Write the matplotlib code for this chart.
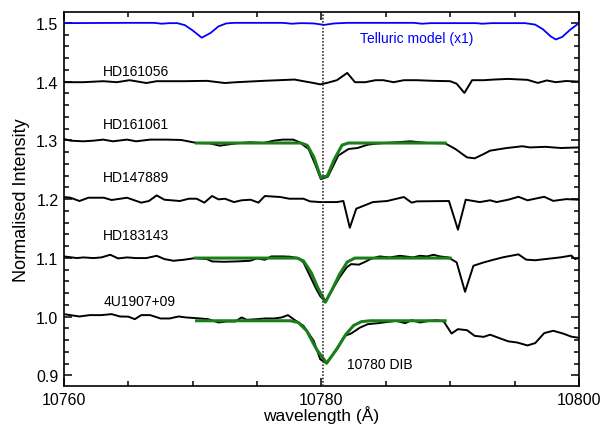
import matplotlib
matplotlib.use('Agg')
import matplotlib.pyplot as plt
from matplotlib.ticker import MultipleLocator, FormatStrFormatter

plt.rcParams['font.family'] = ['Liberation Sans', 'DejaVu Sans']

# telluric model (blue)
tell_wl = [10760.0, 10765.0, 10767.0, 10767.6, 10768.2, 10768.8, 10769.4, 10770.0, 10770.7, 10771.4,
           10772.0, 10772.6, 10773.2, 10777.0, 10777.7, 10778.4, 10779.4, 10780.2, 10781.0, 10782.0,
           10787.2, 10787.8, 10788.5, 10792.0, 10792.5, 10793.2, 10795.8, 10796.6, 10797.2, 10797.8,
           10798.2, 10798.7, 10799.3, 10800.0]
tell_fl = [1.4995, 1.5, 1.5, 1.4985, 1.4995, 1.4995, 1.496, 1.487, 1.4747, 1.483,
           1.494, 1.499, 1.5, 1.5, 1.4985, 1.4995, 1.499, 1.4965, 1.499, 1.5,
           1.5, 1.4985, 1.4995, 1.4995, 1.4985, 1.4995, 1.4995, 1.497, 1.489, 1.477,
           1.4717, 1.476, 1.488, 1.4995]

# HD161056
s1_wl = [10760.0, 10761.5, 10763.05, 10764.1, 10765.1, 10766.4, 10767.2, 10769.3, 10771.1, 10772.5,
         10773.4, 10775.5, 10777.9, 10778.6, 10779.4, 10779.9, 10780.4, 10781.2, 10782.0, 10782.6,
         10783.4, 10784.2, 10784.8, 10785.6, 10786.4, 10787.4, 10788.7, 10790.0, 10790.5, 10791.1,
         10791.7, 10792.6, 10793.4, 10794.5, 10796.0, 10796.8, 10797.5, 10798.2, 10799.0, 10800.0]
s1_fl = [1.399, 1.399, 1.4007, 1.399, 1.4024, 1.3976, 1.4007, 1.4007, 1.4013, 1.3976,
         1.399, 1.4013, 1.4035, 1.4007, 1.3976, 1.3953, 1.3976, 1.4024, 1.4148, 1.399,
         1.399, 1.4024, 1.4024, 1.399, 1.4024, 1.4024, 1.4013, 1.4007, 1.3964, 1.3807,
         1.4024, 1.4024, 1.4035, 1.4046, 1.403, 1.3978, 1.402, 1.399, 1.401, 1.400]

# HD161061
s2_wl = [10760.0, 10760.5, 10761.5, 10762.3, 10763.05, 10763.8, 10764.9, 10765.6, 10766.7, 10767.9,
         10769.1, 10770.3, 10771.3, 10772.1, 10773.4, 10774.45, 10775.5, 10776.3, 10777.0, 10777.8,
         10778.3, 10779.0, 10779.5, 10779.95, 10780.5, 10781.3, 10782.1, 10782.8, 10783.6, 10784.5,
         10785.8, 10786.9, 10788.2, 10789.6, 10790.4, 10791.3, 10791.9, 10792.6, 10793.1, 10793.9,
         10794.4, 10795.6, 10796.2, 10797.4, 10798.6, 10800.0]
s2_fl = [1.3024, 1.2995, 1.2984, 1.2995, 1.3013, 1.2984, 1.3013, 1.2984, 1.3013, 1.3013,
         1.3007, 1.2956, 1.295, 1.291, 1.295, 1.2967, 1.2956, 1.2995, 1.3013, 1.3013,
         1.2967, 1.2853, 1.2598, 1.2342, 1.2382, 1.274, 1.2853, 1.287, 1.2927, 1.295,
         1.2967, 1.2984, 1.2956, 1.295, 1.2853, 1.2711, 1.2694, 1.2768, 1.2825, 1.2853,
         1.287, 1.290, 1.288, 1.289, 1.287, 1.288]

# HD147889
s3_wl = [10760.0, 10760.5, 10761.2, 10761.9, 10763.1, 10763.7, 10764.9, 10766.0, 10766.6, 10767.2,
         10767.8, 10769.0, 10769.7, 10770.3, 10770.9, 10771.5, 10772.0, 10772.5, 10773.2, 10773.8,
         10774.5, 10775.1, 10775.6, 10776.8, 10777.5, 10778.6, 10779.1, 10779.9, 10781.2, 10781.7,
         10782.2, 10782.7, 10784.0, 10785.1, 10786.4, 10787.0, 10787.4, 10789.9, 10790.6, 10791.2,
         10792.3, 10793.1, 10793.6, 10794.5, 10795.3, 10796.0, 10797.3, 10798.0, 10799.0, 10800.0]
s3_fl = [1.2036, 1.2024, 1.1968, 1.2024, 1.2024, 1.1985, 1.2024, 1.194, 1.1968, 1.2064,
         1.199, 1.1968, 1.2007, 1.2007, 1.194, 1.2053, 1.1996, 1.2007, 1.195, 1.198,
         1.199, 1.194, 1.2053, 1.2036, 1.2007, 1.2007, 1.1962, 1.195, 1.195, 1.1968,
         1.1513, 1.1837, 1.195, 1.1968, 1.2036, 1.194, 1.1962, 1.1968, 1.148, 1.199,
         1.195, 1.198, 1.195, 1.199, 1.204, 1.198, 1.204, 1.197, 1.200, 1.199]

# HD183143
s4_wl = [10760.0, 10761.0, 10761.5, 10762.3, 10762.9, 10763.6, 10764.2, 10764.9, 10765.6, 10766.4,
         10767.2, 10767.8, 10768.5, 10769.3, 10770.2, 10771.1, 10771.5, 10772.4, 10773.4, 10774.45,
         10775.0, 10775.6, 10776.1, 10777.0, 10777.55, 10778.2, 10778.6, 10779.1, 10779.6, 10779.9,
         10780.3, 10780.8, 10781.4, 10781.95, 10782.3, 10782.9, 10783.4, 10783.8, 10784.5, 10785.3,
         10786.1, 10787.1, 10787.65, 10788.2, 10788.7, 10789.2, 10789.85, 10790.5, 10791.15, 10791.8,
         10792.6, 10793.35, 10794.1, 10795.3, 10795.9, 10796.6, 10797.4, 10798.6, 10799.4, 10799.7,
         10800.0]
s4_fl = [1.1025, 1.0997, 1.1008, 1.0997, 1.1008, 1.1053, 1.0991, 1.1008, 1.0997, 1.0997,
         1.1036, 1.098, 1.0951, 1.0968, 1.0997, 1.098, 1.094, 1.0934, 1.094, 1.0951,
         1.0991, 1.0968, 1.1025, 1.1025, 1.102, 1.0997, 1.0923, 1.0695, 1.0468, 1.035,
         1.0253, 1.044, 1.0667, 1.0837, 1.0894, 1.0885, 1.0934, 1.098, 1.1025, 1.1008,
         1.1036, 1.1008, 1.1036, 1.1025, 1.1053, 1.1025, 1.1008, 1.0923, 1.0423, 1.0866,
         1.0923, 1.0968, 1.101, 1.106, 1.097, 1.096, 1.098, 1.101, 1.104, 1.098,
         1.100]

# 4U1907+09
s5_wl = [10760.0, 10760.5, 10761.2, 10762.0, 10762.9, 10763.7, 10764.35, 10765.0, 10765.5, 10766.0,
         10766.7, 10767.5, 10768.2, 10768.9, 10769.5, 10770.3, 10771.2, 10772.0, 10772.6, 10773.3,
         10773.8, 10774.2, 10775.0, 10775.6, 10776.3, 10776.9, 10777.4, 10777.9, 10778.6, 10779.4,
         10779.9, 10780.4, 10780.9, 10781.4, 10781.8, 10782.3, 10783.0, 10783.6, 10784.4, 10784.8,
         10785.8, 10786.5, 10787.0, 10787.65, 10788.4, 10788.95, 10789.5, 10790.1, 10790.6, 10791.3,
         10791.9, 10792.6, 10793.1, 10793.9, 10794.5, 10795.2, 10796.0, 10796.6, 10797.3, 10798.0,
         10798.8, 10799.4, 10800.0]
s5_fl = [1.0043, 1.0026, 1.0003, 1.0026, 1.0026, 1.0043, 1.0003, 1.0, 0.9957, 1.0026,
         1.0026, 0.9969, 0.9969, 1.0003, 0.9986, 0.9974, 0.9957, 0.9901, 0.9918, 0.9918,
         0.9986, 0.9946, 0.9957, 0.9969, 0.9969, 0.9986, 1.0026, 0.9946, 0.9844, 0.9588,
         0.9276, 0.9202, 0.9361, 0.9531, 0.9673, 0.9713, 0.9815, 0.9872, 0.9889, 0.9901,
         0.9929, 0.9889, 0.994, 0.9901, 0.9929, 0.994, 0.9918, 0.9713, 0.9787, 0.977,
         0.9673, 0.9656, 0.9693, 0.9628, 0.958, 0.956, 0.951, 0.955, 0.972, 0.976,
         0.971, 0.966, 0.964]

# gaussian fits of the 10780 DIB (green)
fit2_wl = [10770.3, 10778.4, 10778.9, 10779.4, 10779.95, 10780.45, 10781.0, 10781.6, 10782.1, 10789.6]
fit2_fl = [1.2955, 1.2955, 1.2915, 1.272, 1.2365, 1.2395, 1.268, 1.292, 1.2955, 1.2955]
fit4_wl = [10770.2, 10778.1, 10778.6, 10779.2, 10779.7, 10780.3, 10780.8, 10781.4, 10782.0, 10782.6, 10790.0]
fit4_fl = [1.0997, 1.0997, 1.095, 1.075, 1.05, 1.0245, 1.045, 1.072, 1.093, 1.0997, 1.0997]
fit5_wl = [10770.3, 10777.6, 10778.2, 10778.85, 10779.6, 10780.4, 10781.2, 10781.9, 10782.5, 10783.1, 10783.8, 10789.6]
fit5_fl = [0.993, 0.993, 0.990, 0.976, 0.945, 0.921, 0.945, 0.970, 0.985, 0.9915, 0.993, 0.993]

names = ['HD161056', 'HD161061', 'HD147889', 'HD183143', '4U1907+09']
name_y = [1.418, 1.328, 1.238, 1.139, 1.027]
dib_center = 10780.15

fig = plt.figure(figsize=(6.11, 4.27), dpi=100)
ax = fig.add_axes([0.1047, 0.0937, 0.8429, 0.8766])

ax.plot(tell_wl, tell_fl, color='#0000ff', lw=1.3)
for wl, fl in [(s1_wl, s1_fl), (s2_wl, s2_fl), (s3_wl, s3_fl), (s4_wl, s4_fl), (s5_wl, s5_fl)]:
    ax.plot(wl, fl, color='black', lw=1.4)
for wl, fl in [(fit2_wl, fit2_fl), (fit4_wl, fit4_fl), (fit5_wl, fit5_fl)]:
    ax.plot(wl, fl, color='#1a7f1a', lw=2.2)

ax.axvline(dib_center, color='#333333', ls=(0, (1, 1)), lw=1.2, zorder=5)

for n, y in zip(names, name_y):
    ax.text(10763.05, y, n, fontsize=10, va='center', ha='left')
ax.text(10783.0, 1.4744, 'Telluric model (x1)', color='#0000ff', fontsize=10, va='center', ha='left')
ax.text(10781.95, 0.919, '10780 DIB', fontsize=10, va='center', ha='left')

ax.set_xlim(10760, 10800)
ax.set_ylim(0.882, 1.519)
ax.xaxis.set_major_locator(MultipleLocator(20))
ax.xaxis.set_minor_locator(MultipleLocator(5))
ax.yaxis.set_major_locator(MultipleLocator(0.1))
ax.yaxis.set_minor_locator(MultipleLocator(0.02))
ax.yaxis.set_major_formatter(FormatStrFormatter('%.1f'))
ax.tick_params(which='both', direction='in', top=True, right=True, labelsize=11.5, width=1.1)
ax.tick_params(which='major', length=6, pad=4)
ax.tick_params(which='minor', length=3.5)
for sp in ax.spines.values():
    sp.set_linewidth(1.2)

ax.set_xlabel('wavelength (Å)', fontsize=12.5, labelpad=-1)
ax.set_ylabel('Normalised Intensity', fontsize=13, labelpad=4)

fig.savefig('out.png', dpi=100)
